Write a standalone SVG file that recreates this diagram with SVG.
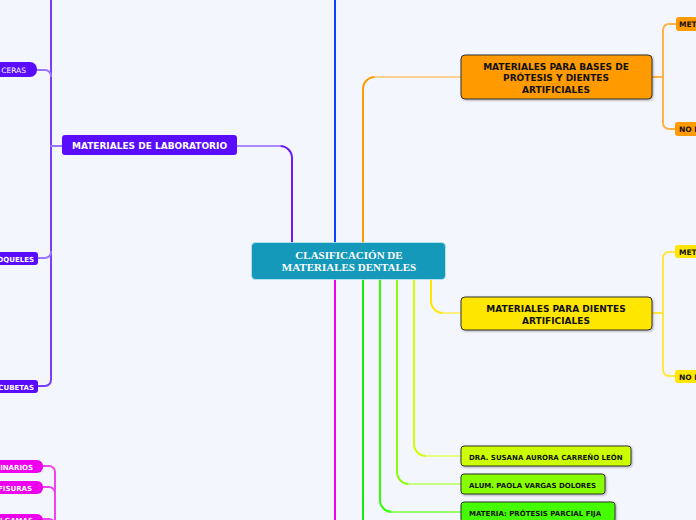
<svg xmlns="http://www.w3.org/2000/svg" width="696" height="520" viewBox="0 0 696 520">
<defs>
<style>
.c{fill:none;stroke-width:2;stroke-linecap:round}
.t{font-family:"DejaVu Sans","Verdana",sans-serif;font-weight:bold}
.w{fill:#fff}
.k{fill:#111}
.bd{stroke:#333;stroke-width:1}
</style>
<filter id="sh" x="-10%" y="-20%" width="120%" height="150%"><feDropShadow dx="1" dy="1" stdDeviation="0.8" flood-color="#000" flood-opacity="0.3"/></filter>
</defs>
<rect width="696" height="520" fill="#f3f6fd"/>
<g id="connectors">
<path class="c" stroke="#0a46ff" d="M335,-5 V243"/>
<path class="c" stroke="#6a1aff" d="M292,242 V158 A12,12 0 0 0 280,146"/>
<path class="c" stroke="#a98aff" stroke-width="1.5" d="M280,146 H237"/>
<path class="c" stroke="#ff9a00" d="M363,242 V89 A12,12 0 0 1 375,77"/>
<path class="c" stroke="#ffcf8f" stroke-width="1.5" d="M375,77 H461"/>
<path class="c" stroke="#f000f0" d="M335,279 V525"/>
<path class="c" stroke="#11ee11" d="M363,279 V525"/>
<path class="c" stroke="#33ff00" d="M380,279 V500 A12,12 0 0 0 392,512"/>
<path class="c" stroke="#99ff66" stroke-width="1.5" d="M392,512 H461"/>
<path class="c" stroke="#88ff00" d="M397,279 V472 A12,12 0 0 0 409,484"/>
<path class="c" stroke="#c6ff80" stroke-width="1.5" d="M409,484 H461"/>
<path class="c" stroke="#ccff00" d="M414,279 V444 A12,12 0 0 0 426,456"/>
<path class="c" stroke="#e6ff80" stroke-width="1.5" d="M426,456 H461"/>
<path class="c" stroke="#ffe600" d="M431,279 V301 A12,12 0 0 0 443,313"/>
<path class="c" stroke="#fff080" stroke-width="1.5" d="M443,313 H461"/>
<path class="c" stroke="#ffb347" stroke-width="1.5" d="M652,77 H663 M663,77 V30 A6,6 0 0 1 669,24 H676 M663,77 V123 A6,6 0 0 0 669,129 H676"/>
<path class="c" stroke="#ffe640" stroke-width="1.5" d="M652,313 H663 M663,313 V258 A6,6 0 0 1 669,252 H676 M663,313 V370 A6,6 0 0 0 669,376 H676"/>
<path class="c" stroke="#7a3cff" d="M51,-5 V380 A6,6 0 0 1 45,386 H38"/>
<path class="c" stroke="#9b74ff" stroke-width="1.5" d="M37,70 H45 A6,6 0 0 1 51,76 M38,258 H45 A6,6 0 0 0 51,252 M62,146 H51"/>
<path class="c" stroke="#ee44ee" stroke-width="1.5" d="M43,466 H49 A6,6 0 0 1 55,472 V525 M43,487 H49 A6,6 0 0 1 55,493 M43,519 H49 A6,6 0 0 1 55,525"/>
</g>
<g id="center">
<rect x="251.5" y="242.5" width="194" height="37" rx="4" fill="#1499bb" stroke="#bfe6f0" stroke-width="0.8"/>
<text x="349" y="259" text-anchor="middle" font-family="'Liberation Serif',serif" font-weight="bold" font-size="11" fill="#fff">CLASIFICACIÓN DE</text>
<text x="349" y="270.5" text-anchor="middle" font-family="'Liberation Serif',serif" font-weight="bold" font-size="11" fill="#fff">MATERIALES DENTALES</text>
</g>
<g id="lab">
<rect x="62" y="135" width="175" height="20" rx="3" fill="#5a0cff"/>
<text class="t w" x="149.5" y="149" text-anchor="middle" font-size="9">MATERIALES DE LABORATORIO</text>
</g>
<g id="ceras">
<rect x="-10" y="62" width="47" height="15" rx="7" fill="#5a0cff"/>
<text x="26" y="73" text-anchor="end" font-family="'DejaVu Sans',sans-serif" font-size="7.5" fill="#fff">CERAS</text>
</g>
<g id="zoqueles">
<rect x="-10" y="252" width="48" height="13" rx="3" fill="#5a0cff"/>
<text class="t w" x="34" y="261.5" text-anchor="end" font-size="7">OQUELES</text>
</g>
<g id="cubetas">
<rect x="-10" y="380" width="48" height="13" rx="3" fill="#5a0cff"/>
<text class="t w" x="34" y="389.5" text-anchor="end" font-size="7">CUBETAS</text>
</g>
<g id="inarios">
<rect x="-10" y="460" width="53" height="13" rx="6" fill="#ee00ee"/>
<text class="t w" x="33" y="469.5" text-anchor="end" font-size="7">INARIOS</text>
</g>
<g id="fisuras">
<rect x="-10" y="481" width="53" height="13" rx="6" fill="#ee00ee"/>
<text class="t w" x="32" y="490.5" text-anchor="end" font-size="7">FISURAS</text>
</g>
<g id="lgamas">
<rect x="-10" y="514" width="53" height="13" rx="6" fill="#ee00ee"/>
<text class="t w" x="33" y="523" text-anchor="end" font-size="7">LGAMAS</text>
</g>
<g id="bases">
<rect x="461" y="55" width="191" height="44" rx="4" fill="#ff9a00" class="bd" filter="url(#sh)"/>
<text class="t k" x="556" y="69.5" text-anchor="middle" font-size="9">MATERIALES PARA BASES DE</text>
<text class="t k" x="556" y="81" text-anchor="middle" font-size="9">PRÓTESIS Y DIENTES</text>
<text class="t k" x="556" y="92.5" text-anchor="middle" font-size="9">ARTIFICIALES</text>
</g>
<g id="bases-met">
<rect x="676" y="17" width="40" height="14" rx="3" fill="#ff9a00"/>
<text class="t k" x="679" y="27" font-size="7.5">MET</text>
</g>
<g id="bases-nomet">
<rect x="675" y="122" width="40" height="14" rx="3" fill="#ff9a00"/>
<text class="t k" x="679" y="132" font-size="7.5">NO M</text>
</g>
<g id="dientes">
<rect x="461" y="297" width="191" height="33" rx="4" fill="#ffe600" class="bd" filter="url(#sh)"/>
<text class="t k" x="556" y="312" text-anchor="middle" font-size="9">MATERIALES PARA DIENTES</text>
<text class="t k" x="556" y="323.5" text-anchor="middle" font-size="9">ARTIFICIALES</text>
</g>
<g id="dientes-met">
<rect x="675" y="245" width="40" height="13" rx="3" fill="#ffe600"/>
<text class="t k" x="679" y="255" font-size="7.5">MET</text>
</g>
<g id="dientes-nomet">
<rect x="675" y="370" width="40" height="13" rx="3" fill="#ffe600"/>
<text class="t k" x="679" y="380" font-size="7.5">NO M</text>
</g>
<g id="dra">
<rect x="461" y="446" width="170" height="20" rx="3" fill="#ccff00" class="bd" filter="url(#sh)"/>
<text class="t k" x="469" y="459.5" font-size="7">DRA. SUSANA AURORA CARREÑO LEÓN</text>
</g>
<g id="alum">
<rect x="461" y="474" width="144" height="20" rx="3" fill="#88ff00" class="bd" filter="url(#sh)"/>
<text class="t k" x="469" y="487.5" font-size="7">ALUM. PAOLA VARGAS DOLORES</text>
</g>
<g id="materia">
<rect x="461" y="502" width="154" height="20" rx="3" fill="#44ff00" class="bd" filter="url(#sh)"/>
<text class="t k" x="469" y="515.5" font-size="7">MATERIA: PRÓTESIS PARCIAL FIJA</text>
</g>
</svg>
